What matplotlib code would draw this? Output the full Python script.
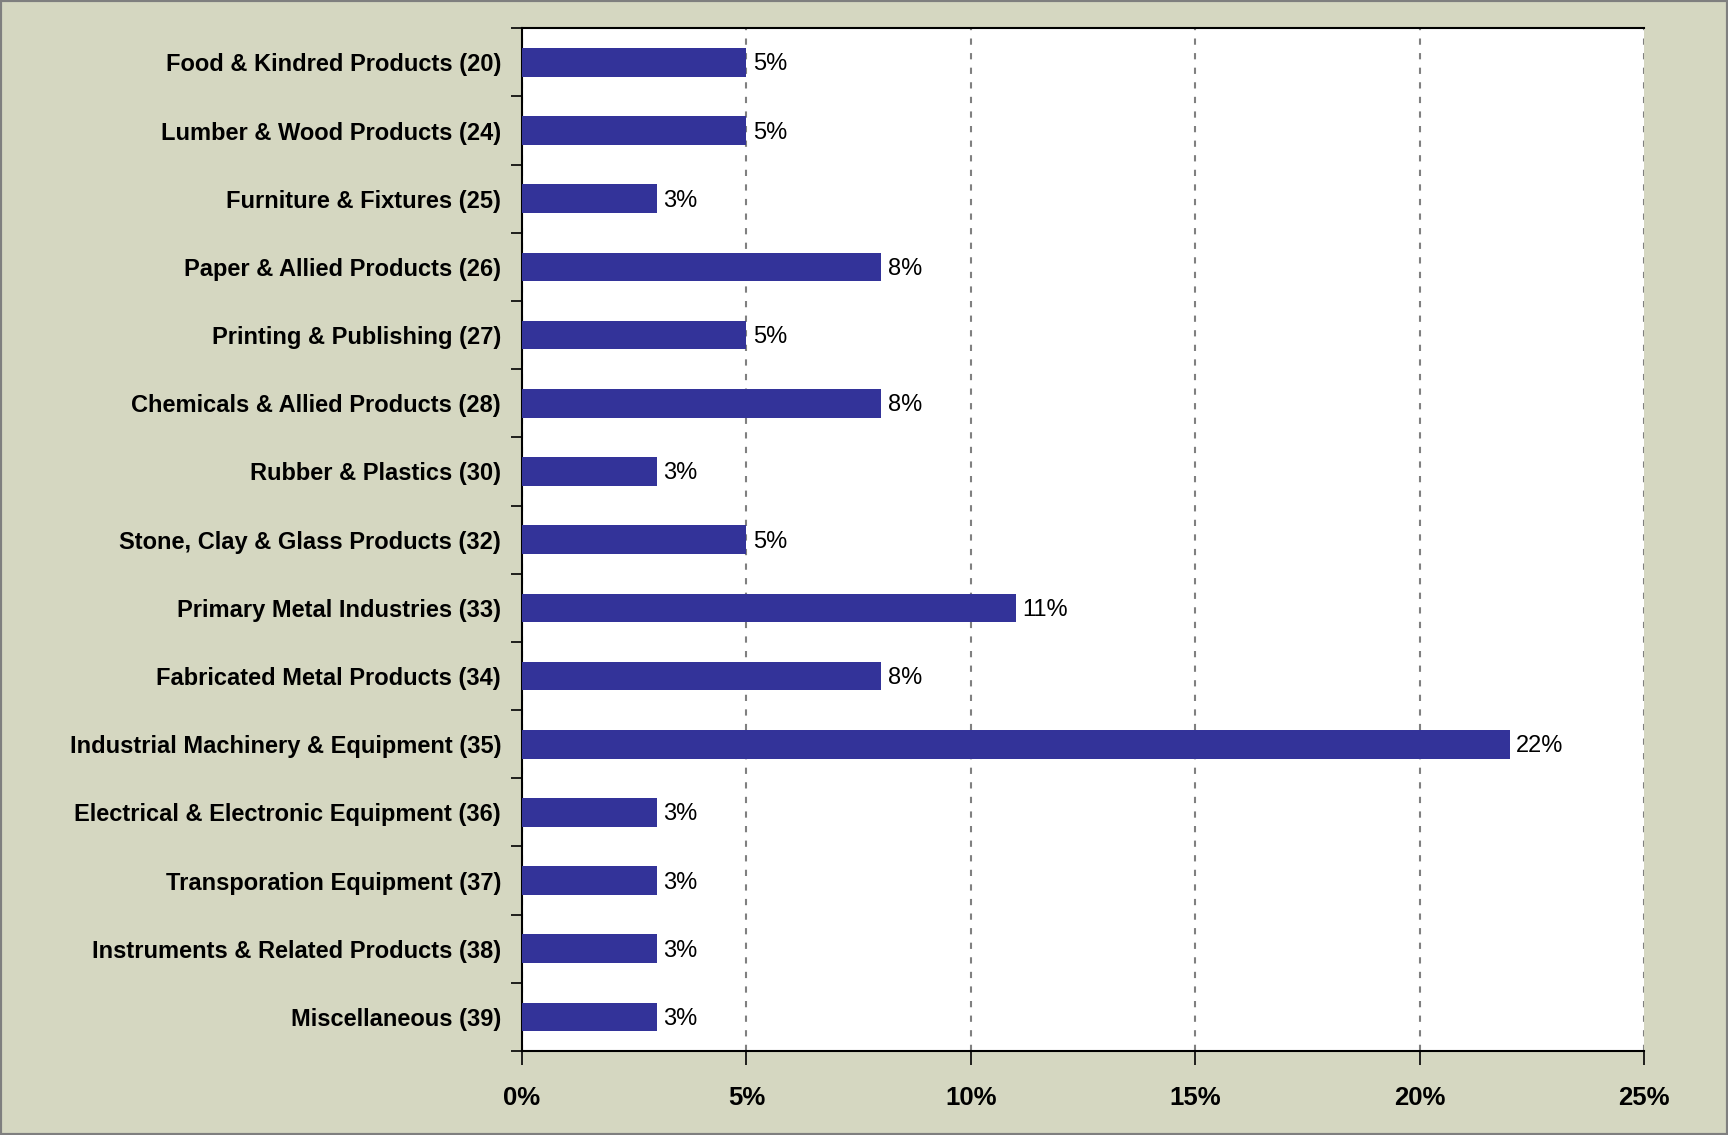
import matplotlib.pyplot as plt
from matplotlib.ticker import FixedLocator, PercentFormatter

plt.rcParams["font.family"] = ["Liberation Sans", "DejaVu Sans"]

industries = [
    "Food & Kindred Products (20)",
    "Lumber & Wood Products (24)",
    "Furniture & Fixtures (25)",
    "Paper & Allied Products (26)",
    "Printing & Publishing (27)",
    "Chemicals & Allied Products (28)",
    "Rubber & Plastics (30)",
    "Stone, Clay & Glass Products (32)",
    "Primary Metal Industries (33)",
    "Fabricated Metal Products (34)",
    "Industrial Machinery & Equipment (35)",
    "Electrical & Electronic Equipment (36)",
    "Transporation Equipment (37)",
    "Instruments & Related Products (38)",
    "Miscellaneous (39)",
]
shares = [5, 5, 3, 8, 5, 8, 3, 5, 11, 8, 22, 3, 3, 3, 3]

bg = "#d5d7c1"
bar_color = "#333399"

fig = plt.figure(figsize=(17.28, 11.35), dpi=100, facecolor=bg)
ax = fig.add_axes([0.302, 0.074, 0.6495, 0.9011])
ax.set_facecolor("white")

y = list(range(len(industries)))
ax.barh(y, shares, height=0.42, color=bar_color, linewidth=0, zorder=3)
for yi, v in zip(y, shares):
    ax.text(v + 0.15, yi + 0.03, f"{v}%", va="center", ha="left", fontsize=17, color="black")

ax.set_xlim(0, 25)
ax.set_ylim(len(industries) - 0.5, -0.5)

ax.set_xticks([0, 5, 10, 15, 20, 25])
ax.xaxis.set_major_formatter(PercentFormatter(decimals=0))
ax.tick_params(axis="x", length=10, width=1.2, pad=15, labelsize=18.5)
for lbl in ax.get_xticklabels():
    lbl.set_fontweight("bold")

ax.set_yticks(y)
ax.set_yticklabels(industries, fontsize=17, fontweight="bold")
ax.tick_params(axis="y", length=0, pad=15)
ax.yaxis.set_minor_locator(FixedLocator([i - 0.5 for i in range(len(industries) + 1)]))
ax.tick_params(axis="y", which="minor", length=8, width=1.2)

ax.grid(axis="x", color="#808080", linestyle=(0, (3, 4)), linewidth=1.5, zorder=1)
ax.set_axisbelow(True)

for side in ("left", "bottom", "top"):
    ax.spines[side].set_color("black")
    ax.spines[side].set_linewidth(1.5)
ax.spines["right"].set_visible(False)

fig.patches.append(plt.Rectangle((0, 0), 1, 1, transform=fig.transFigure,
                                 fill=False, edgecolor="#7f7f7f", linewidth=3))

fig.savefig("out.png", dpi=100, facecolor=bg)
